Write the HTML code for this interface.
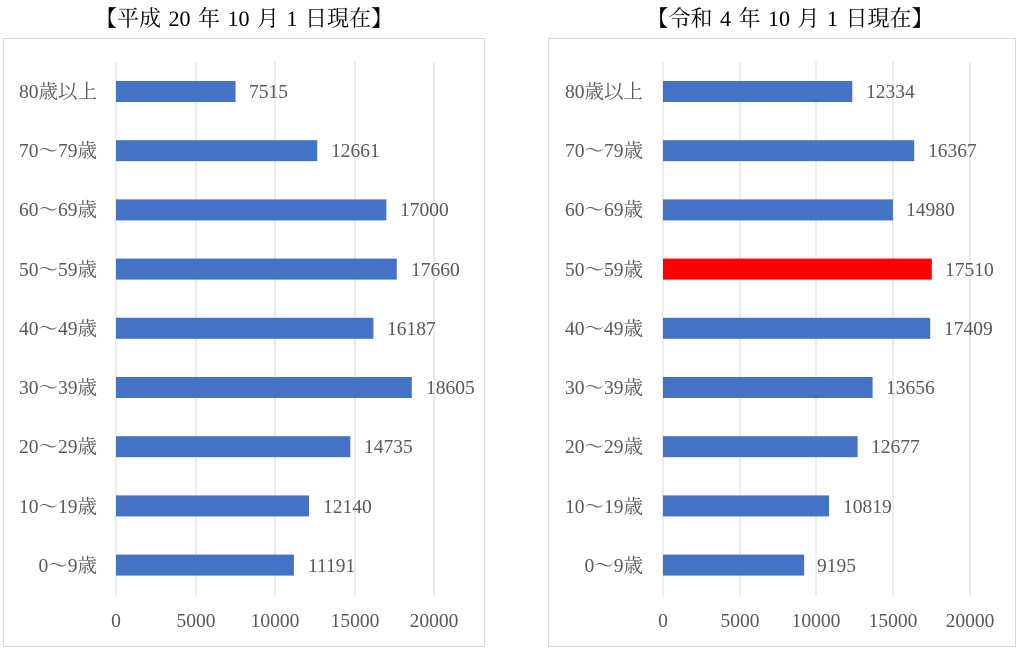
<!DOCTYPE html>
<html><head><meta charset="utf-8"><style>
body{margin:0;background:#fff;}
svg text{font-family:"Liberation Serif","Noto Serif CJK JP",serif;fill:#595959;font-size:19.5px;}
</style></head><body>
<svg width="1024" height="649" viewBox="0 0 1024 649" xmlns="http://www.w3.org/2000/svg">
<rect width="1024" height="649" fill="#fff"/>
<text x="244" y="26" text-anchor="middle" style="font-size:22px;fill:#000;word-spacing:2px">【平成 20 年 10 月 1 日現在】</text>
<text x="790" y="26" text-anchor="middle" style="font-size:22px;fill:#000;word-spacing:2px">【令和 4 年 10 月 1 日現在】</text>
<rect x="3.5" y="38.5" width="481" height="608" fill="none" stroke="#d9d9d9"/>
<rect x="548.5" y="38.5" width="467" height="608" fill="none" stroke="#d9d9d9"/>
<g stroke="#d9d9d9" stroke-width="1">
<line x1="116" y1="62" x2="116" y2="596"/><line x1="196" y1="62" x2="196" y2="596"/><line x1="275" y1="62" x2="275" y2="596"/><line x1="355" y1="62" x2="355" y2="596"/><line x1="434" y1="62" x2="434" y2="596"/>
<line x1="663" y1="62" x2="663" y2="596"/><line x1="740" y1="62" x2="740" y2="596"/><line x1="816" y1="62" x2="816" y2="596"/><line x1="893" y1="62" x2="893" y2="596"/><line x1="970" y1="62" x2="970" y2="596"/>
</g>
<g fill="#4472c4">
<rect x="116" y="81" width="119.5" height="21"/>
<rect x="116" y="140.2" width="201.3" height="21"/>
<rect x="116" y="199.4" width="270.3" height="21"/>
<rect x="116" y="258.6" width="280.8" height="21"/>
<rect x="116" y="317.8" width="257.4" height="21"/>
<rect x="116" y="377" width="295.8" height="21"/>
<rect x="116" y="436.2" width="234.3" height="21"/>
<rect x="116" y="495.4" width="193" height="21"/>
<rect x="116" y="554.6" width="177.9" height="21"/>
<rect x="663" y="81" width="189.3" height="21"/>
<rect x="663" y="140.2" width="251.2" height="21"/>
<rect x="663" y="199.4" width="229.9" height="21"/>
<rect x="663" y="258.6" width="268.8" height="21" fill="#ff0000"/>
<rect x="663" y="317.8" width="267.2" height="21"/>
<rect x="663" y="377" width="209.6" height="21"/>
<rect x="663" y="436.2" width="194.6" height="21"/>
<rect x="663" y="495.4" width="166.1" height="21"/>
<rect x="663" y="554.6" width="141.1" height="21"/>
</g>
<g text-anchor="end">
<text x="97" y="98">80歳以上</text><text x="97" y="157">70～79歳</text><text x="97" y="216">60～69歳</text><text x="97" y="276">50～59歳</text><text x="97" y="335">40～49歳</text><text x="97" y="394">30～39歳</text><text x="97" y="453">20～29歳</text><text x="97" y="513">10～19歳</text><text x="97" y="572">0～9歳</text>
<text x="643" y="98">80歳以上</text><text x="643" y="157">70～79歳</text><text x="643" y="216">60～69歳</text><text x="643" y="276">50～59歳</text><text x="643" y="335">40～49歳</text><text x="643" y="394">30～39歳</text><text x="643" y="453">20～29歳</text><text x="643" y="513">10～19歳</text><text x="643" y="572">0～9歳</text>
</g>
<g>
<text x="249" y="98">7515</text><text x="331" y="157">12661</text><text x="400" y="216">17000</text><text x="411" y="276">17660</text><text x="387" y="335">16187</text><text x="426" y="394">18605</text><text x="364" y="453">14735</text><text x="323" y="513">12140</text><text x="308" y="572">11191</text>
<text x="866" y="98">12334</text><text x="928" y="157">16367</text><text x="906" y="216">14980</text><text x="945" y="276">17510</text><text x="944" y="335">17409</text><text x="886" y="394">13656</text><text x="871" y="453">12677</text><text x="843" y="513">10819</text><text x="817" y="572">9195</text>
</g>
<g text-anchor="middle">
<text x="116" y="627">0</text><text x="196" y="627">5000</text><text x="275" y="627">10000</text><text x="355" y="627">15000</text><text x="434" y="627">20000</text>
<text x="663" y="627">0</text><text x="740" y="627">5000</text><text x="816" y="627">10000</text><text x="893" y="627">15000</text><text x="970" y="627">20000</text>
</g>
</svg>
</body></html>
